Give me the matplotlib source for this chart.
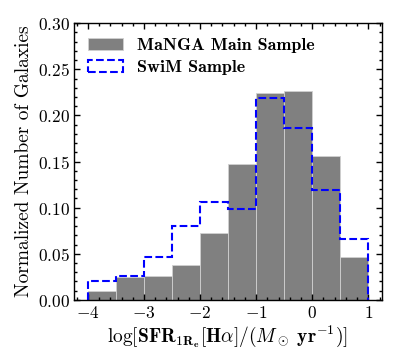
import numpy as np
import matplotlib
matplotlib.use("Agg")
from matplotlib import pyplot as plt
from matplotlib.ticker import MultipleLocator

# bin edges of log SFR (dex)
binEdges = [-4.0, -3.5, -3.0, -2.5, -2.0, -1.5, -1.0, -0.5, 0.0, 0.5, 1.0]
mangaFrac = [0.010, 0.025, 0.026, 0.038, 0.073, 0.147, 0.224, 0.227, 0.156, 0.046]
swimFrac = [0.020, 0.026, 0.046, 0.080, 0.106, 0.099, 0.219, 0.186, 0.119, 0.066]
yTicks = [0.00, 0.05, 0.10, 0.15, 0.20, 0.25, 0.30]
xTicks = [-4, -3, -2, -1, 0, 1]

plt.rcParams['mathtext.fontset'] = 'cm'
plt.rcParams['axes.unicode_minus'] = False


def main():
    fig = plt.figure(figsize=(3.99, 3.63), dpi=100)
    ax = fig.add_axes([0.185, 0.174, 0.772, 0.762])

    centers = [(binEdges[i] + binEdges[i + 1]) / 2 for i in range(len(binEdges) - 1)]
    ax.hist(centers, bins=binEdges, weights=mangaFrac, color='#808080',
            edgecolor='#d0d0d0', linewidth=0.6, label='MaNGA Main Sample')
    ax.hist(centers, bins=binEdges, weights=swimFrac, histtype='step',
            color='blue', linestyle='--', linewidth=1.5, label='SwiM Sample')

    ax.set_xlim(-4.25, 1.24)
    ax.set_ylim(0, 0.30)
    ax.set_yticks(yTicks)
    ax.set_yticklabels([r'$\mathbf{%.2f}$' % t for t in yTicks], fontsize=12.5)
    ax.set_xticks(xTicks)
    ax.set_xticklabels([r'$\mathbf{%d}$' % t for t in xTicks], fontsize=12.5)
    ax.xaxis.set_minor_locator(MultipleLocator(0.2))
    ax.yaxis.set_minor_locator(MultipleLocator(0.01))
    ax.tick_params(which='both', direction='in', top=True, right=True, width=1)
    ax.tick_params(which='major', length=4, pad=3)
    ax.tick_params(which='minor', length=2)
    for s in ax.spines.values():
        s.set_linewidth(1.0)

    ax.set_ylabel('Normalized Number of Galaxies', fontfamily='cmr10', fontsize=14, labelpad=3)
    ax.set_xlabel(r'$\log[\mathbf{SFR}_{\mathbf{1R_e}}[\mathbf{H}\alpha]/(M_\odot\ \mathbf{yr}^{-1})]$',
                  fontsize=14, labelpad=1)

    ax.legend(loc='upper left', frameon=False, prop={'family': 'cmb10', 'size': 13},
              handlelength=1.9, handletextpad=0.8, labelspacing=0.35, borderaxespad=0.4)

    fig.savefig('out.png', dpi=100)


main()
